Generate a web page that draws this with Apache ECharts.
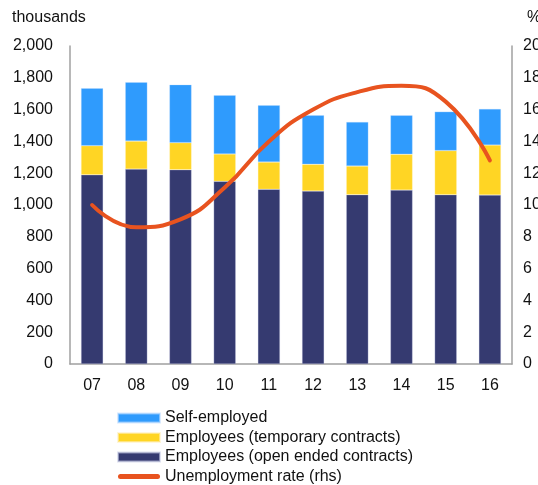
<!DOCTYPE html>
<html>
<head>
<meta charset="utf-8">
<script src="https://cdn.jsdelivr.net/npm/echarts@6/dist/echarts.min.js"></script>
<style>
  html, body { margin: 0; padding: 0; background: #fff; }
  #chart { width: 538px; height: 485px; }
</style>
</head>
<body>
<div id="chart"></div>
<script>
const years = ['07', '08', '09', '10', '11', '12', '13', '14', '15', '16']
// thousands
const openEnded = [1190, 1226, 1222, 1149, 1099, 1088, 1065, 1094, 1065, 1063]
const temporary = [183, 176, 170, 172, 171, 168, 180, 225, 277, 314]
const selfEmployed = [361, 370, 365, 369, 357, 308, 277, 245, 245, 227]
// %, right axis
const unemployment = [10.0, 8.6, 9.1, 11.1, 14.0, 16.0, 17.1, 17.5, 16.5, 12.8]

const chart = echarts.init(document.getElementById('chart'))

const axisLine = { show: true, lineStyle: { color: '#a0a0a0', width: 1.5 } }
const labelFont = { color: '#111', fontSize: 16, fontFamily: 'Liberation Sans, Arial, sans-serif' }
// rounded thick line for the rate legend entry
const lineIcon = 'path://M2.5,0 H39.5 A2.5,2.5 0 0 1 39.5,5 H2.5 A2.5,2.5 0 0 1 2.5,0 Z'

chart.setOption({
  animation: false,
  grid: { left: 70, right: 26, top: 46, bottom: 121, outerBoundsMode: 'none', containLabel: false },
  legend: {
    orient: 'vertical',
    left: 117,
    top: 410,
    height: 90,
    padding: 0,
    itemWidth: 42,
    itemHeight: 9,
    itemGap: 3.5,
    textStyle: labelFont,
    data: [
      { name: 'Self-employed', icon: 'rect' },
      { name: 'Employees (temporary contracts)', icon: 'rect' },
      { name: 'Employees (open ended contracts)', icon: 'rect' },
      { name: 'Unemployment rate (rhs)', icon: lineIcon, itemStyle: { color: '#e8531f' } }
    ]
  },
  xAxis: {
    type: 'category',
    data: years,
    axisLine: axisLine,
    axisTick: { show: false },
    axisLabel: { ...labelFont, margin: 14 }
  },
  yAxis: [
    {
      type: 'value',
      min: 0,
      max: 2000,
      interval: 200,
      name: 'thousands',
      nameLocation: 'end',
      nameGap: 28,
      nameTextStyle: { ...labelFont, align: 'left', verticalAlign: 'middle', padding: [0, 0, 0, -58] },
      axisLine: axisLine,
      axisTick: { show: false },
      splitLine: { show: false },
      axisLabel: {
        ...labelFont,
        margin: 17,
        formatter: v => v.toLocaleString('en-US')
      }
    },
    {
      type: 'value',
      min: 0,
      max: 20,
      interval: 2,
      name: '%',
      nameLocation: 'end',
      nameGap: 28,
      nameTextStyle: { ...labelFont, align: 'left', verticalAlign: 'middle', padding: [0, 0, 0, 15] },
      axisLine: axisLine,
      axisTick: { show: false },
      splitLine: { show: false },
      axisLabel: { ...labelFont, margin: 11 }
    }
  ],
  series: [
    {
      name: 'Employees (open ended contracts)',
      type: 'bar',
      stack: 'jobs',
      barWidth: '50%',
      data: openEnded,
      itemStyle: { color: '#353a70', borderColor: 'rgba(200,205,230,0.6)', borderWidth: 0.5 }
    },
    {
      name: 'Employees (temporary contracts)',
      type: 'bar',
      stack: 'jobs',
      data: temporary,
      itemStyle: { color: '#ffd524', borderColor: 'rgba(255,240,190,0.6)', borderWidth: 0.5 }
    },
    {
      name: 'Self-employed',
      type: 'bar',
      stack: 'jobs',
      data: selfEmployed,
      itemStyle: { color: '#2f9bfd', borderColor: 'rgba(190,220,255,0.6)', borderWidth: 0.5 }
    },
    {
      name: 'Unemployment rate (rhs)',
      type: 'line',
      yAxisIndex: 1,
      smooth: 0.5,
      symbol: 'none',
      data: unemployment,
      lineStyle: { color: '#e8531f', width: 4, cap: 'round' },
      itemStyle: { color: '#e8531f' }
    }
  ]
})
</script>
</body>
</html>
